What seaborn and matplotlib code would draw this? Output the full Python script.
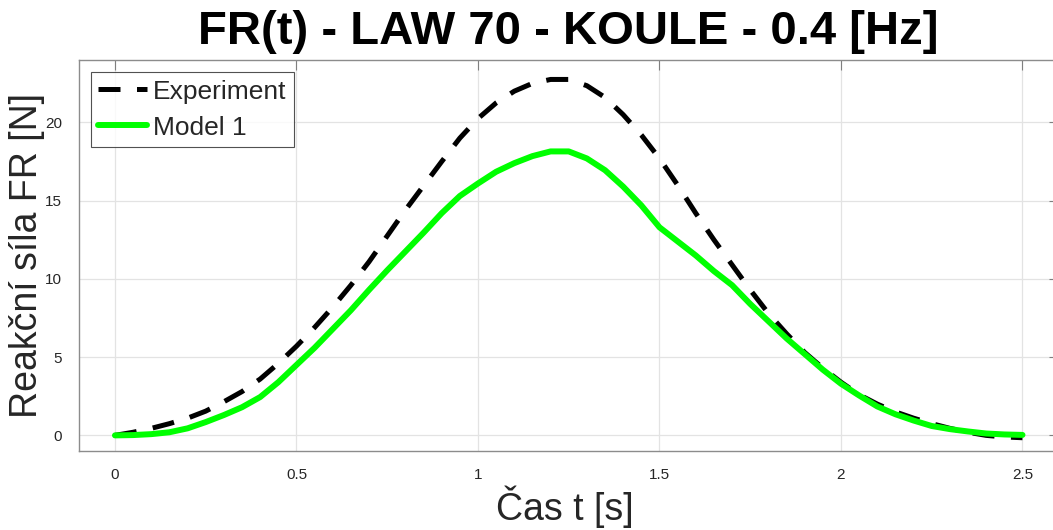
import matplotlib
matplotlib.use("Agg")
import matplotlib.pyplot as plt
import seaborn as sns
import pandas as pd

time_s = [0.00, 0.05, 0.10, 0.15, 0.20, 0.25, 0.30, 0.35, 0.40, 0.45,
          0.50, 0.55, 0.60, 0.65, 0.70, 0.75, 0.80, 0.85, 0.90, 0.95,
          1.00, 1.05, 1.10, 1.15, 1.20, 1.25, 1.30, 1.35, 1.40, 1.45,
          1.50, 1.55, 1.60, 1.65, 1.70, 1.75, 1.80, 1.85, 1.90, 1.95,
          2.00, 2.05, 2.10, 2.15, 2.20, 2.25, 2.30, 2.35, 2.40, 2.45, 2.50]

experiment = [0.0, 0.2, 0.45, 0.75, 1.1, 1.55, 2.15, 2.8, 3.6, 4.6,
              5.7, 6.9, 8.2, 9.6, 11.1, 12.75, 14.4, 15.95, 17.5, 19.0,
              20.25, 21.25, 22.0, 22.5, 22.75, 22.75, 22.35, 21.6, 20.5, 19.2,
              17.7, 16.0, 14.2, 12.5, 10.9, 9.3, 7.8, 6.5, 5.3, 4.3,
              3.4, 2.6, 2.0, 1.5, 1.1, 0.75, 0.45, 0.2, 0.0, -0.1, -0.15]

model1 = [0.0, 0.02, 0.08, 0.2, 0.45, 0.85, 1.3, 1.8, 2.45, 3.4,
          4.5, 5.6, 6.8, 8.0, 9.3, 10.55, 11.75, 12.95, 14.2, 15.3,
          16.1, 16.85, 17.4, 17.85, 18.15, 18.15, 17.7, 16.95, 15.9, 14.7,
          13.3, 12.4, 11.5, 10.5, 9.6, 8.4, 7.3, 6.2, 5.2, 4.2,
          3.3, 2.55, 1.85, 1.35, 0.95, 0.6, 0.4, 0.25, 0.12, 0.06, 0.03]

series_names = ["Experiment", "Model 1"]
x_ticks = [0, 0.5, 1, 1.5, 2, 2.5]
x_tick_labels = ["0", "0.5", "1", "1.5", "2", "2.5"]
y_ticks = [0, 5, 10, 15, 20]
y_tick_labels = ["0", "5", "10", "15", "20"]

title_text = "FR(t) - LAW 70 - KOULE - 0.4 [Hz]"
x_label = "Čas t [s]"
y_label = "Reakční síla FR [N]"

sns.set_style("white")
plt.rcParams["font.family"] = ["Liberation Sans", "DejaVu Sans"]

df = pd.DataFrame({
    "t": time_s * 2,
    "F": experiment + model1,
    "series": [series_names[0]] * len(time_s) + [series_names[1]] * len(time_s),
})

fig = plt.figure(figsize=(10.53, 5.30), dpi=100)
ax = fig.add_axes([0.0747, 0.149, 0.9308, 0.738])

sns.lineplot(data=df[df.series == series_names[0]], x="t", y="F", ax=ax,
             color="black", linewidth=3.6, label=series_names[0])
ax.lines[-1].set_dashes((4.4, 3.3))
sns.lineplot(data=df[df.series == series_names[1]], x="t", y="F", ax=ax,
             color="#00ff00", linewidth=4.3, label=series_names[1])

ax.set_xlim(-0.1, 2.6)
ax.set_ylim(-1, 24)
ax.set_xticks(x_ticks)
ax.set_xticklabels(x_tick_labels)
ax.set_yticks(y_ticks)
ax.set_yticklabels(y_tick_labels)
ax.tick_params(axis="both", direction="in", length=7, width=0.8,
               labelsize=11, colors="#7f7f7f", labelcolor="#262626",
               top=True, right=True, pad=12)
ax.grid(True, color="#e3e3e3", linewidth=0.9)
for sp in ax.spines.values():
    sp.set_color("#8c8c8c")
    sp.set_linewidth(1.0)

ax.set_title(title_text, fontsize=34, fontweight="bold", color="black",
             y=1.0, pad=4.5, va="bottom")
ax.set_xlabel(x_label, fontsize=27, color="#262626", va="center")
ax.set_ylabel(y_label, fontsize=27, color="#262626", va="center")
ax.xaxis.set_label_coords(0.5, -0.143)
ax.xaxis.label.set_x((565 - 78.7) / 980.1)
ax.yaxis.set_label_coords(-0.053, 0.5)

leg = ax.legend(loc="upper left", fontsize=19, frameon=True, fancybox=False,
                handlelength=1.85, borderpad=0.3, labelspacing=0.45,
                handletextpad=0.2, borderaxespad=0.45)
leg.get_frame().set_edgecolor("#262626")
leg.get_frame().set_linewidth(0.8)

fig.savefig("out.png", dpi=100)
